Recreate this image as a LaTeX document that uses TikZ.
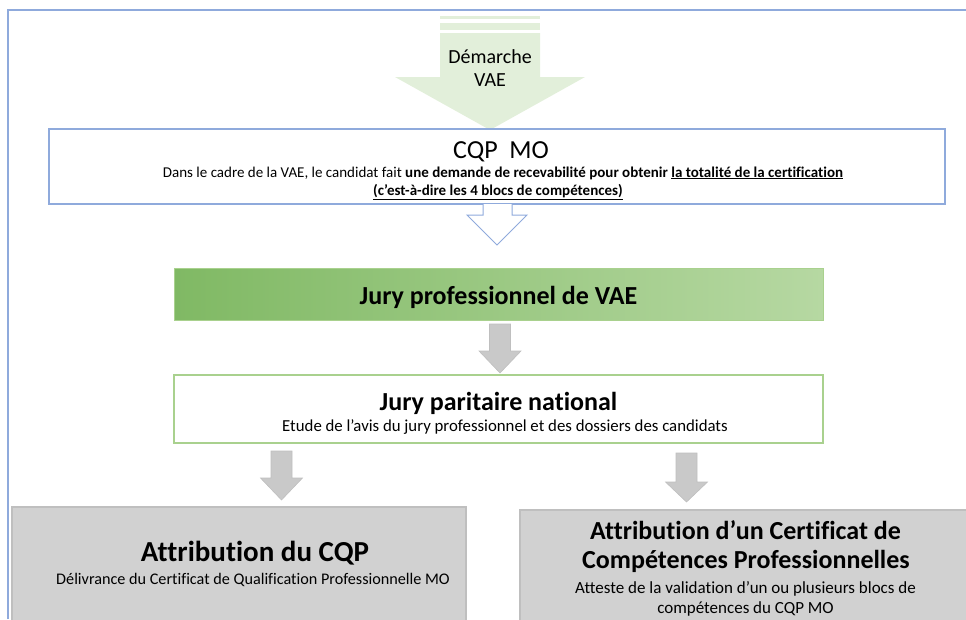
\documentclass[tikz,border=0pt]{standalone}
\usepackage{fontspec}
\setmainfont{Carlito}[Ligatures=NoCommon]
\usetikzlibrary{positioning}

\definecolor{frameblue}{HTML}{8FAADC}
\definecolor{lightgreen}{HTML}{E2EFDA}
\definecolor{darkgreen}{HTML}{80B964}
\definecolor{palegreen}{HTML}{B6D8A2}
\definecolor{linegreen}{HTML}{A9D18E}
\definecolor{boxgray}{HTML}{D1D1D1}
\definecolor{linegray}{HTML}{BFBFBF}
\definecolor{arrowgray}{HTML}{C9C9C9}

\tikzset{
  box/.style={rectangle, inner sep=0pt},
  bigtitle/.style={anchor=base, inner sep=0pt, font=\fontsize{26}{30}\selectfont},
  boldtitle/.style={anchor=base, inner sep=0pt, font=\fontsize{26}{30}\selectfont\bfseries},
  smalltext/.style={anchor=base, inner sep=0pt, font=\fontsize{17}{20}\selectfont},
}

% block arrow pointing down: x, top, start of head, tip
\newcommand{\graydown}[4]{
  \filldraw[fill=arrowgray, draw=linegray, line width=.6pt]
    (#1-10.5,#2) -- (#1+10.5,#2) -- (#1+10.5,#3) -- (#1+21,#3)
    -- (#1,#4) -- (#1-21,#3) -- (#1-10.5,#3) -- cycle;
}

\begin{document}
\begin{tikzpicture}[x=1pt, y=-1pt]
		\useasboundingbox (0,0) rectangle (966,619);
		
		% frame
		\draw[frameblue, line width=2pt] (8,619) -- (8,10) -- (970,10);
		
		% Demarche VAE arrow
		\fill[lightgreen] (440,16) rectangle (540,19);
		\fill[lightgreen] (440,23) rectangle (540,30);
		\fill[lightgreen] (440,33) -- (540,33) -- (540,77) -- (585,77)
			-- (490,130) -- (395,77) -- (440,77) -- cycle;
		\node[smalltext, font=\fontsize{20}{22}\selectfont] (dem1) at (490,63.5) {Démarche};
		\node[smalltext, font=\fontsize{20}{22}\selectfont] (dem2) at (490,86.5) {VAE};
		
		% CQP MO
		\node[box, draw=frameblue, line width=1.2pt, fill=white, minimum width=896pt, minimum height=75pt] (cqp) at (497,166.5) {};
		\node[bigtitle] (cqptitle) at (501,158) {CQP\ \ MO};
		\node[smalltext, font=\fontsize{15}{18}\selectfont] (cqpline1) at (503,177) {Dans le cadre de la VAE, le candidat fait \textbf{une demande de recevabilité pour obtenir \underline{la totalité de la certification}}};
		\node[smalltext, font=\fontsize{15}{18}\selectfont] (cqpline2) at (498,195) {\textbf{\underline{(c’est-à-dire les 4 blocs de compétences)}}};
		
		% outline arrow
		\filldraw[fill=white, draw=frameblue, line width=1pt]
			(483,204) -- (483,215) -- (467,215) -- (497,245) -- (527,215) -- (512,215) -- (512,204);
		
		% Jury professionnel
		\node[box, draw=linegreen, line width=1pt, left color=darkgreen, right color=palegreen, minimum width=649pt, minimum height=52pt] (jpro) at (498.5,294) {};
		\node[boldtitle] (jprotitle) at (498.5,304) {Jury professionnel de VAE};
		
		\graydown{500}{324}{351}{373}
		
		% Jury paritaire
		\node[box, draw=linegreen, line width=1.5pt, fill=white, minimum width=649pt, minimum height=68pt] (jpar) at (498.5,409) {};
		\node[boldtitle] (jpartitle) at (498.5,410) {Jury paritaire national};
		\node[smalltext, font=\fontsize{16.8}{20}\selectfont] (jpartext) at (505,431) {Etude de l’avis du jury professionnel et des dossiers des candidats};
		
		\graydown{281.5}{451}{478}{500}
		\graydown{686.5}{453}{482}{502}
		
		% Attribution du CQP
		\node[box, draw=linegray, line width=1.2pt, fill=boxgray, minimum width=454pt, minimum height=120pt] (attcqp) at (239,567) {};
		\node[boldtitle, font=\fontsize{29}{32}\selectfont\bfseries] (attcqptitle) at (255,561) {Attribution du CQP};
		\node[smalltext, font=\fontsize{16.2}{20}\selectfont] (attcqptext) at (253,584) {Délivrance du Certificat de Qualification Professionnelle MO};
		
		% Attribution d'un CCP
		\node[box, draw=linegray, line width=1.2pt, fill=boxgray, minimum width=452pt, minimum height=120pt] (attccp) at (746,570) {};
		\node[boldtitle] (attccp1) at (745.5,539) {Attribution d’un Certificat de};
		\node[boldtitle] (attccp2) at (746,568) {Compétences Professionnelles};
		\node[smalltext] (attccp3) at (745.5,593) {Atteste de la validation d’un ou plusieurs blocs de};
		\node[smalltext] (attccp4) at (745.5,613) {compétences du CQP MO};
	\end{tikzpicture}
\end{document}
